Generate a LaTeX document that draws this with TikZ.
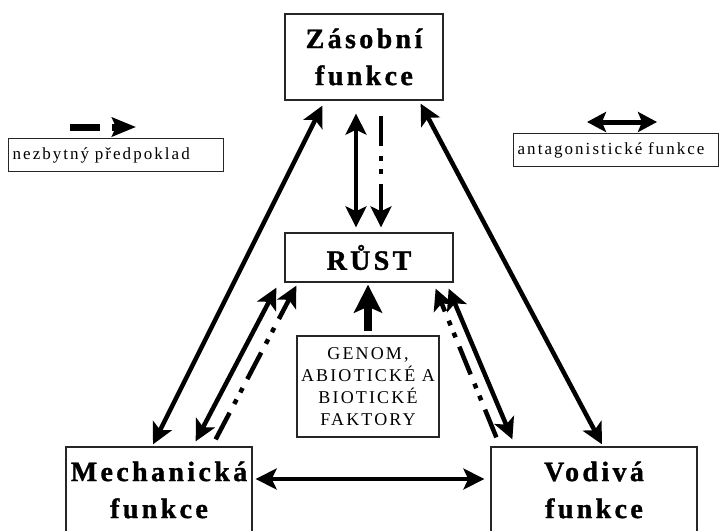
\documentclass[tikz,border=0pt]{standalone}
\usepackage{fontspec}
\setmainfont{Liberation Serif}
\newfontfamily\boxfont[LetterSpace=12, BoldFeatures={FakeBold=1.2}]{Liberation Serif}
\usetikzlibrary{arrows.meta,positioning}

\begin{document}
\begin{tikzpicture}[
  x=1pt, y=-1pt,
  fbox/.style={draw=black!85, line width=1.3pt, align=center, inner sep=0pt},
  func/.style={fbox, font=\boxfont\fontsize{28}{37}\selectfont\bfseries, minimum height=86pt},
  note/.style={fbox, font=\boxfont\fontsize{18}{22}\selectfont},
  legend/.style={note, align=left, inner xsep=4pt, minimum height=33pt, font=\boxfont\fontsize{17}{19}\selectfont},
  dbl/.style={{Stealth[length=21pt, width=21pt, inset=5pt]}-{Stealth[length=21pt, width=21pt, inset=5pt]}, line width=4.5pt},
  need/.style={-{Stealth[length=21pt, width=21pt, inset=5pt]}, line width=4.5pt,
    dash pattern=on 30pt off 10pt on 5pt off 8pt on 5pt off 10pt},
]
\clip (0,0) rectangle (725,530);

% --- boxes ---
\node[func, minimum width=158pt] (zas) at (364,57) {Zásobní\\funkce};
\node[fbox, font=\boxfont\fontsize{28}{37}\selectfont\bfseries, minimum width=168pt, minimum height=49pt] (rust) at (369,257.5) {RŮST};
\node[note, minimum width=142pt, minimum height=101pt] (gen) at (368,386.5) {GENOM,\\ABIOTICKÉ A\\BIOTICKÉ\\FAKTORY};
\node[func, minimum width=186pt] (mech) at (159,490) {Mechanická\\funkce};
\node[func, minimum width=206pt] (vod) at (594,490) {Vodivá\\funkce};

% --- legend ---
\node[legend, text width=207pt, anchor=north west] (lnec) at (8,138) {nezbytný předpoklad};
\node[legend, text width=197pt, anchor=north west] (lant) at (513,133) {antagonistické funkce};
\coordinate (nA) at ([xshift=62pt,yshift=11pt]lnec.north west);
\coordinate (nB) at ([xshift=92pt,yshift=11pt]lnec.north west);
\coordinate (nC) at ([xshift=104pt,yshift=11pt]lnec.north west);
\coordinate (nD) at ([xshift=128pt,yshift=11pt]lnec.north west);
\draw[line width=7pt] (nA) -- (nB);
\draw[-{Stealth[length=24pt, width=19pt, inset=4pt]}, line width=7pt] (nC) -- (nD);
\coordinate (aA) at ([xshift=74pt,yshift=11pt]lant.north west);
\coordinate (aB) at ([xshift=144pt,yshift=11pt]lant.north west);
\draw[{Stealth[length=19pt, width=20pt, inset=4pt]}-{Stealth[length=19pt, width=20pt, inset=4pt]}, line width=5pt] (aA) -- (aB);

% --- zasobni / rust ---
\draw[dbl] ([xshift=-8pt,yshift=-13pt]zas.south) -- ([xshift=-13pt,yshift=5pt]rust.north);
\draw[need] ([xshift=17pt,yshift=-15pt]zas.south) -- ([xshift=12pt,yshift=5pt]rust.north);

% --- long sides ---
\draw[dbl] ([xshift=38pt,yshift=-5pt]zas.south west) -- ([xshift=-6pt,yshift=2pt]mech.north);
\draw[dbl] ([xshift=-23pt,yshift=-3pt]zas.south east) -- ([xshift=8pt,yshift=2pt]vod.north);

% --- rust / mechanicka ---
\draw[dbl] ([xshift=-8pt,yshift=-5pt]rust.south west) -- ([xshift=-57pt,yshift=5pt]mech.north east);
\draw[need] ([xshift=-37pt,yshift=7pt]mech.north east) -- ([xshift=12pt,yshift=-3pt]rust.south west);

% --- rust / vodiva ---
\draw[dbl] ([xshift=-5pt,yshift=-6pt]rust.south east) -- ([xshift=22pt,yshift=7pt]vod.north west);
\draw[need] ([xshift=6pt,yshift=9pt]vod.north west) -- ([xshift=-18pt,yshift=-6pt]rust.south east);

% --- genom ---
\draw[-{Stealth[length=28pt, width=28pt, inset=6pt]}, line width=8pt] ([yshift=4pt]gen.north) -- ([xshift=-1pt,yshift=-2pt]rust.south);

% --- bottom ---
\draw[dbl] ([xshift=3pt,yshift=11pt]mech.east) -- ([xshift=-6pt,yshift=11pt]vod.west);
\end{tikzpicture}
\end{document}
